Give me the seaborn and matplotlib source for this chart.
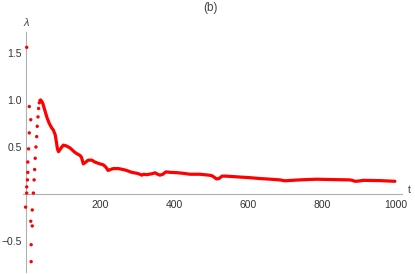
import numpy as np
import pandas as pd
import matplotlib
matplotlib.use('Agg')
import matplotlib.pyplot as plt
from matplotlib.ticker import MultipleLocator, FixedLocator
import seaborn as sns

# scattered dots at the very start (t, lambda)
early_t = [2, 9, 13, 9, 7, 5, 5, 4, 2, 2, -1, 17, 13, 17, 14, 14,
           20, 22, 23.5, 25, 27, 29, 30.5, 32.5, 34, 36, 38]
early_lam = [1.56, 0.93, 0.79, 0.65, 0.48, 0.34, 0.23, 0.15, 0.075, 0.01,
             -0.14, -0.17, -0.29, -0.34, -0.54, -0.72,
             0.01, 0.15, 0.26, 0.38, 0.50, 0.61, 0.72, 0.82, 0.91, 0.97, 0.995]

# main curve (t, lambda)
main_t = [40, 45, 51, 57, 63, 70, 74, 79, 82, 85, 88, 95, 101, 110, 119, 130,
          137, 146, 150, 155, 162, 168, 178, 186, 200, 209, 215, 222, 228, 236,
          250, 263, 272, 286, 300, 308, 313, 318, 326, 340, 349, 356, 362, 370,
          378, 390, 407, 425, 443, 470, 495, 502, 508, 515, 522, 530, 540, 560,
          578, 600, 630, 650, 686, 700, 710, 740, 785, 830, 875, 882, 889, 900,
          912, 957, 997]
main_lam = [1.0, 0.97, 0.89, 0.81, 0.75, 0.70, 0.68, 0.63, 0.56, 0.48, 0.45,
            0.49, 0.52, 0.51, 0.49, 0.45, 0.43, 0.41, 0.39, 0.32, 0.34, 0.36,
            0.36, 0.34, 0.32, 0.31, 0.29, 0.25, 0.26, 0.27, 0.27, 0.26, 0.25,
            0.23, 0.22, 0.21, 0.20, 0.21, 0.205, 0.215, 0.225, 0.21, 0.20, 0.21,
            0.235, 0.23, 0.227, 0.22, 0.21, 0.21, 0.20, 0.195, 0.18, 0.16, 0.165,
            0.19, 0.19, 0.185, 0.18, 0.175, 0.165, 0.16, 0.15, 0.14, 0.143,
            0.15, 0.157, 0.153, 0.15, 0.145, 0.135, 0.138, 0.145, 0.142, 0.135]

early = pd.DataFrame({'t': early_t, 'lam': early_lam})
main = pd.DataFrame({'t': main_t, 'lam': main_lam})

sns.set_style('white')
plt.rcParams['font.family'] = ['Liberation Sans', 'DejaVu Sans']

fig = plt.figure(figsize=(4.15, 2.74), dpi=100)
ax = fig.add_axes([23 / 415, 2 / 274, 379.3 / 415, 239.7 / 274])

red = '#ff0000'
sns.lineplot(data=main, x='t', y='lam', ax=ax, color=red, lw=2.3,
             sort=False, estimator=None)
sns.scatterplot(data=early, x='t', y='lam', ax=ax, color=red, s=6,
                edgecolor='none', linewidth=0, zorder=3)

ax.set_xlim(-8, 1017)
ax.set_ylim(-0.83, 1.72)
ax.set_xlabel('')
ax.set_ylabel('')

for s in ['top', 'right']:
    ax.spines[s].set_visible(False)
for s in ['left', 'bottom']:
    ax.spines[s].set_position(('data', 0))
    ax.spines[s].set_color('#b0b0b0')
    ax.spines[s].set_linewidth(0.8)

ax.xaxis.set_major_locator(FixedLocator([200, 400, 600, 800, 1000]))
ax.xaxis.set_minor_locator(MultipleLocator(50))
ax.yaxis.set_major_locator(FixedLocator([-0.5, 0.5, 1.0, 1.5]))
ax.yaxis.set_minor_locator(MultipleLocator(0.1))
ax.set_xticklabels(['200', '400', '600', '800', '1000'])
ax.set_yticklabels(['\u22120.5', '0.5', '1.0', '1.5'])
ax.tick_params(which='both', direction='in', color='#b0b0b0', width=0.8,
               labelsize=7.5, labelcolor='#333333')
ax.tick_params(which='major', length=4)
ax.tick_params(which='minor', length=2.5)
ax.tick_params(axis='x', pad=4)
ax.tick_params(axis='y', pad=3)

ax.text(1035, 0.04, 't', fontsize=7.5, color='#444444', ha='center',
        va='center', clip_on=False)
fig.text(26 / 415, 1 - 23 / 274, '\u03bb', fontsize=8, color='#444444',
         ha='center', va='center', style='italic')
fig.text(210 / 415, 1 - 8 / 274, '(b)', fontsize=8.5, color='#444444',
         ha='center', va='center')

fig.savefig('out.png', dpi=100)
